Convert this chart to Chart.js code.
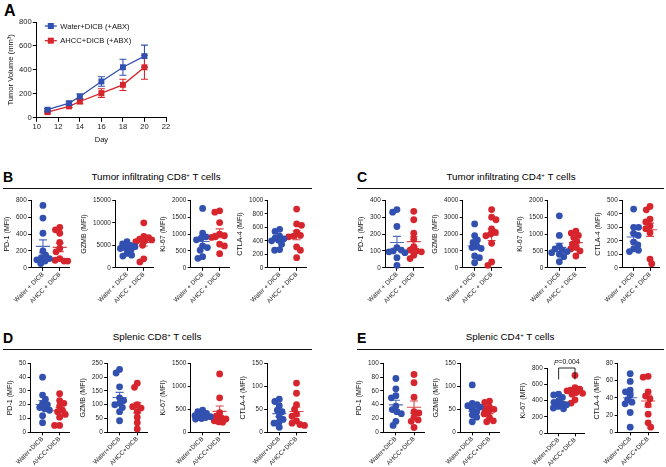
<!DOCTYPE html>
<html lang="en">
<head>
<meta charset="UTF-8">
<title>Tumor volume and T cell markers</title>
<script src="https://cdn.jsdelivr.net/npm/chart.js"></script>
<style>
  body { margin: 0; background: #fff; }
  #fig { position: relative; width: 666px; height: 467px; overflow: hidden; background: #fff;
         font-family: "Liberation Sans", Arial, sans-serif; color: #000; }
  #fig canvas { position: absolute; }
  .tag { position: absolute; font-weight: bold; font-size: 14px; line-height: 14px; }
  .head { position: absolute; font-size: 9.8px; line-height: 11px; white-space: nowrap; transform: translateX(-50%); }
  .head sup { font-size: 6px; vertical-align: 3px; line-height: 0; }
  .rule { position: absolute; height: 1.5px; background: #111; }
</style>
</head>
<body>
<div id="fig">
  <div class="tag" style="left:4px;top:2.5px;font-size:16px;line-height:16px">A</div>

  <div class="tag" style="left:3px;top:170px">B</div>
  <div class="head" style="left:156px;top:171px">Tumor infiltrating CD8<sup>+</sup> T cells</div>
  <div class="rule" style="left:3px;top:187.5px;width:309px"></div>

  <div class="tag" style="left:357px;top:170px">C</div>
  <div class="head" style="left:511px;top:171px">Tumor infiltrating CD4<sup>+</sup> T cells</div>
  <div class="rule" style="left:357px;top:187.5px;width:307px"></div>

  <div class="tag" style="left:3px;top:331px">D</div>
  <div class="head" style="left:157px;top:331px">Splenic CD8<sup>+</sup> T cells</div>
  <div class="rule" style="left:3px;top:348.5px;width:309px"></div>

  <div class="tag" style="left:357px;top:331px">E</div>
  <div class="head" style="left:510px;top:331px">Splenic CD4<sup>+</sup> T cells</div>
  <div class="rule" style="left:357px;top:348.5px;width:307px"></div>
</div>
<script>
// ---- data ----
const days = [11, 13, 14, 16, 18, 20];
const waterVol = [67, 122, 178, 303, 422, 515];
const waterErr = [10, 12, 20, 40, 67, 92];
const ahccVol = [47, 95, 136, 206, 275, 422];
const ahccErr = [8, 10, 18, 36, 47, 100];

const groupsLong = ['Water + DICB', 'AHCC + DICB'];
const groupsShort = ['Water+DICB', 'AHCC+DICB'];

// B: tumor infiltrating CD8+
const bPd1W = [740, 590, 410, 200, 150, 120, 110, 95, 80, 50];
const bPd1A = [480, 450, 410, 300, 230, 190, 110, 90, 80, 80];
const bGzmbW = [5800, 5300, 5000, 4700, 4500, 4300, 4000, 3200, 2800, 2600];
const bGzmbA = [10000, 7000, 6700, 6400, 6200, 6000, 5800, 5000, 2000, 1300];
const bKi67W = [1760, 1030, 920, 880, 830, 650, 600, 520, 330, 280];
const bKi67A = [1690, 1650, 1340, 1000, 950, 920, 900, 700, 650, 420];
const bCtla4W = [570, 540, 470, 440, 430, 410, 400, 350, 270, 260];
const bCtla4A = [870, 650, 630, 530, 480, 470, 460, 310, 260, 150];

// C: tumor infiltrating CD4+
const cPd1W = [345, 330, 245, 120, 105, 100, 95, 90, 60, 15];
const cPd1A = [335, 285, 205, 170, 125, 105, 100, 95, 75, 55];
const cGzmbW = [2600, 1900, 1650, 1500, 1300, 1200, 1150, 700, 600, 300];
const cGzmbA = [3450, 3000, 2850, 2300, 2100, 2000, 1900, 1450, 350, 150];
const cKi67W = [1540, 960, 640, 560, 520, 480, 450, 400, 330, 180];
const cKi67A = [1090, 1030, 960, 900, 780, 700, 600, 560, 500, 350];
const cCtla4W = [435, 300, 300, 255, 240, 190, 170, 140, 130, 120];
const cCtla4A = [455, 430, 360, 340, 310, 290, 260, 65, 30];

// D: splenic CD8+
const dPd1W = [40, 27, 24, 21, 20, 18, 17, 16, 12, 7];
const dPd1A = [28, 23, 21, 19, 16, 15, 13, 11, 5, 5];
const dGzmbW = [228, 215, 165, 125, 115, 105, 100, 90, 75, 42];
const dGzmbA = [178, 163, 100, 93, 88, 75, 55, 35, 12];
const dKi67W = [480, 450, 410, 380, 360, 340, 330, 320, 300, 290];
const dKi67A = [1270, 750, 430, 350, 320, 290, 250, 230, 220];
const dCtla4W = [72, 67, 58, 48, 45, 35, 28, 22, 20, 11];
const dCtla4A = [107, 85, 60, 50, 40, 35, 25, 20, 17, 15];

// E: splenic CD4+
const ePd1W = [78, 63, 53, 50, 38, 33, 30, 27, 16, 10];
const ePd1A = [84, 72, 51, 30, 28, 22, 18, 16, 7];
const eGzmbW = [103, 63, 60, 58, 55, 50, 45, 38, 33, 23];
const eGzmbA = [68, 65, 55, 52, 50, 45, 40, 32, 25, 23];
const eKi67W = [480, 470, 440, 400, 380, 360, 350, 330, 310, 300];
const eKi67A = [710, 560, 540, 530, 520, 500, 490, 480, 410, 370];
const eCtla4W = [68, 59, 49, 47, 43, 38, 35, 33, 23, 6];
const eCtla4A = [65, 64, 47, 42, 39, 32, 21, 11, 6];

const eKi67P = { text: '=0.004', top: 800, drop: 660 };

// ---- setup ----
const FONT = '"Liberation Sans", Arial, sans-serif';
Chart.defaults.font.family = FONT;
Chart.defaults.color = '#222';
const blue = '#3150b0', red = '#d7252d';
const colors = [blue, red];
const fig = document.getElementById('fig');
const X_MIN = 0.3, X_MAX = 2.55;

// panel boxes: [axis x, top, right, zero y]
const dotPanels = [
  { w: bPd1W, a: bPd1A, title: 'PD-1 (MFI)', max: 800, step: 200, labels: groupsLong, box: [31, 200, 69, 267] },
  { w: bGzmbW, a: bGzmbA, title: 'GZMB (MFI)', max: 15000, step: 5000, labels: groupsLong, box: [115, 200, 153, 267] },
  { w: bKi67W, a: bKi67A, title: 'Ki-67 (MFI)', max: 2000, step: 500, labels: groupsLong, box: [191, 200, 229, 267] },
  { w: bCtla4W, a: bCtla4A, title: 'CTLA-4 (MFI)', max: 1000, step: 200, labels: groupsLong, box: [268, 200, 306, 267] },
  { w: cPd1W, a: cPd1A, title: 'PD-1 (MFI)', max: 400, step: 100, labels: groupsLong, box: [385, 200, 423, 267] },
  { w: cGzmbW, a: cGzmbA, title: 'GZMB (MFI)', max: 4000, step: 1000, labels: groupsLong, box: [463, 200, 501, 267] },
  { w: cKi67W, a: cKi67A, title: 'Ki-67 (MFI)', max: 2000, step: 500, labels: groupsLong, box: [548, 200, 585, 267] },
  { w: cCtla4W, a: cCtla4A, title: 'CTLA-4 (MFI)', max: 500, step: 100, labels: groupsLong, box: [622, 200, 659, 267] },
  { w: dPd1W, a: dPd1A, title: 'PD-1 (MFI)', max: 50, step: 10, labels: groupsShort, box: [31, 363, 69, 432] },
  { w: dGzmbW, a: dGzmbA, title: 'GZMB (MFI)', max: 250, step: 50, labels: groupsShort, box: [107, 363, 147, 432] },
  { w: dKi67W, a: dKi67A, title: 'Ki-67 (MFI)', max: 1500, step: 500, labels: groupsShort, box: [191, 363, 229, 432] },
  { w: dCtla4W, a: dCtla4A, title: 'CTLA-4 (MFI)', max: 150, step: 50, labels: groupsShort, box: [267, 363, 306, 432] },
  { w: ePd1W, a: ePd1A, title: 'PD-1 (MFI)', max: 100, step: 20, labels: groupsShort, box: [383, 363, 424, 432] },
  { w: eGzmbW, a: eGzmbA, title: 'GZMB (MFI)', max: 150, step: 50, labels: groupsShort, box: [460, 363, 499, 432] },
  { w: eKi67W, a: eKi67A, title: 'Ki-67 (MFI)', max: 800, step: 200, labels: groupsShort, box: [547, 368, 584, 433], p: eKi67P },
  { w: eCtla4W, a: eCtla4A, title: 'CTLA-4 (MFI)', max: 80, step: 20, labels: groupsShort, box: [618, 363, 658, 432] }
];

// compact beeswarm: dots step sideways (max +-8px) when they would overlap
function swarm(vals, center, max, plotH, pxPerUnit) {
  const d = 5, lim = 8;
  const placed = [];
  return [...vals].sort((a, b) => b - a).map((v, k) => {
    const py = v / max * plotH;
    const gap = c => Math.min(Infinity, ...placed.map(p => Math.hypot(p.px - c, p.py - py)));
    const cands = [0];
    placed.forEach(p => {
      const dy = Math.abs(p.py - py);
      if (dy < d) {
        const w = Math.sqrt(d * d - dy * dy);
        cands.push(p.px + w, p.px - w);
      }
    });
    const ok = cands.filter(c => Math.abs(c) <= lim)
      .sort((a, b) => Math.abs(a) - Math.abs(b) || (k % 2 ? a - b : b - a));
    let px = ok.find(c => gap(c) >= d - 0.01);
    if (px === undefined) {
      let bestGap = -1;
      for (let c = -lim; c <= lim; c += 1) {
        const g = gap(c);
        if (g > bestGap) { bestGap = g; px = c; }
      }
    }
    placed.push({ px, py });
    return { x: center + px / pxPerUnit, y: v };
  });
}

const meanSem = {
  id: 'meanSem',
  afterDatasetsDraw(chart) {
    const { ctx, scales: { x, y } } = chart;
    chart.data.datasets.forEach((ds, i) => {
      const vals = ds.data.map(p => p.y);
      const n = vals.length;
      const mean = vals.reduce((s, v) => s + v, 0) / n;
      const sd = Math.sqrt(vals.reduce((s, v) => s + (v - mean) ** 2, 0) / (n - 1));
      const sem = sd / Math.sqrt(n);
      const cx = x.getPixelForValue(i + 1);
      const ym = y.getPixelForValue(mean), yt = y.getPixelForValue(mean + sem), yb = y.getPixelForValue(mean - sem);
      ctx.save();
      ctx.strokeStyle = ds.backgroundColor;
      ctx.globalAlpha = 0.85;
      ctx.lineWidth = 1.1;
      ctx.beginPath();
      ctx.moveTo(cx - 7, ym); ctx.lineTo(cx + 7, ym);
      ctx.moveTo(cx, yt); ctx.lineTo(cx, yb);
      ctx.moveTo(cx - 4, yt); ctx.lineTo(cx + 4, yt);
      ctx.moveTo(cx - 4, yb); ctx.lineTo(cx + 4, yb);
      ctx.stroke();
      ctx.restore();
    });
  },
  afterDraw(chart) {
    const p = chart.options.plugins.meanSem.p;
    if (!p) return;
    const { ctx, scales: { x, y } } = chart;
    const x1 = x.getPixelForValue(1), x2 = x.getPixelForValue(2);
    const yt = y.getPixelForValue(p.top), yd = y.getPixelForValue(p.drop);
    ctx.save();
    ctx.strokeStyle = '#111';
    ctx.lineWidth = 0.9;
    ctx.beginPath();
    ctx.moveTo(x1, yd); ctx.lineTo(x1, yt); ctx.lineTo(x2, yt); ctx.lineTo(x2, yd);
    ctx.stroke();
    ctx.fillStyle = '#111';
    ctx.textBaseline = 'bottom';
    ctx.font = 'italic 6.8px ' + FONT;
    const wP = ctx.measureText('P').width;
    ctx.font = '6.8px ' + FONT;
    const wR = ctx.measureText(p.text).width;
    const sx = (x1 + x2) / 2 - (wP + wR) / 2;
    ctx.font = 'italic 6.8px ' + FONT;
    ctx.fillText('P', sx, yt - 2);
    ctx.font = '6.8px ' + FONT;
    ctx.fillText(p.text, sx + wP, yt - 2);
    ctx.restore();
  }
};

function axisCommon(size) {
  return {
    grid: { drawOnChartArea: false, drawTicks: true, tickLength: 3, color: '#000', lineWidth: 1 },
    border: { display: true, color: '#000', width: 1 },
    ticks: { font: { size: size }, color: '#222', padding: 1.5 }
  };
}

function dotConfig(p) {
  const plotH = p.box[3] - p.box[1];
  const pxPerUnit = (p.box[2] - p.box[0]) / (X_MAX - X_MIN);
  const xAxis = axisCommon(6.4);
  const yAxis = axisCommon(6.4);
  return {
    type: 'scatter',
    data: {
      datasets: [p.w, p.a].map((vals, i) => ({
        data: swarm(vals, i + 1, p.max, plotH, pxPerUnit),
        backgroundColor: colors[i], borderWidth: 0, pointRadius: 3.4, clip: false
      }))
    },
    options: {
      responsive: false, maintainAspectRatio: false, animation: false, events: [],
      layout: { padding: { top: p.p ? 12 : 5, right: 4, left: 0, bottom: 0 } },
      plugins: { legend: { display: false }, tooltip: { enabled: false }, meanSem: { p: p.p } },
      scales: {
        x: {
          type: 'linear', min: X_MIN, max: X_MAX,
          afterBuildTicks: s => { s.ticks = [{ value: 1 }, { value: 2 }]; },
          afterFit: s => { s.paddingLeft = 0; s.paddingRight = 0; },
          grid: xAxis.grid, border: xAxis.border,
          ticks: { ...xAxis.ticks, minRotation: 45, maxRotation: 45, padding: 0,
                   callback: v => p.labels[Math.round(v) - 1] }
        },
        y: {
          min: 0, max: p.max,
          grid: yAxis.grid, border: yAxis.border,
          ticks: { ...yAxis.ticks, stepSize: p.step, callback: v => String(v) },
          title: { display: true, text: p.title, font: { size: 7.1 }, color: '#111', padding: { top: 1, bottom: 3 } }
        }
      }
    },
    plugins: [meanSem]
  };
}

// ---- panel A ----
const errorBars = {
  id: 'errorBars',
  beforeDatasetsDraw(chart) {
    const { ctx, scales: { x, y } } = chart;
    chart.data.datasets.forEach(ds => {
      ctx.save();
      ctx.strokeStyle = ds.borderColor;
      ctx.lineWidth = 1.1;
      ds.data.forEach((p, i) => {
        const e = ds.errors[i];
        const px = x.getPixelForValue(p.x);
        const t = y.getPixelForValue(p.y + e), b = y.getPixelForValue(p.y - e);
        ctx.beginPath();
        ctx.moveTo(px, t); ctx.lineTo(px, b);
        ctx.moveTo(px - 3.5, t); ctx.lineTo(px + 3.5, t);
        ctx.moveTo(px - 3.5, b); ctx.lineTo(px + 3.5, b);
        ctx.stroke();
      });
      ctx.restore();
    });
  }
};

const lineLegend = {
  id: 'lineLegend',
  afterDraw(chart) {
    const { ctx, chartArea } = chart;
    chart.data.datasets.forEach((ds, i) => {
      const y = chartArea.top + 4 + i * 14.7;
      const x = chartArea.left + 8;
      ctx.save();
      ctx.strokeStyle = ds.borderColor;
      ctx.lineWidth = 1.3;
      ctx.beginPath(); ctx.moveTo(x, y); ctx.lineTo(x + 12, y); ctx.stroke();
      ctx.fillStyle = ds.backgroundColor;
      ctx.fillRect(x + 3, y - 3, 6, 6);
      ctx.fillStyle = '#111';
      ctx.font = '7.6px ' + FONT;
      ctx.textBaseline = 'middle';
      ctx.fillText(ds.label, x + 15.5, y + 0.5);
      ctx.restore();
    });
  }
};

function growthConfig() {
  const xAxis = axisCommon(7.6);
  const yAxis = axisCommon(7.6);
  const mk = (label, vals, errs, c) => ({
    label, errors: errs, data: days.map((d, i) => ({ x: d, y: vals[i] })),
    borderColor: c, backgroundColor: c, borderWidth: 1.3,
    pointStyle: 'rect', pointRadius: 4.2, pointBorderWidth: 0, clip: false
  });
  return {
    type: 'line',
    data: { datasets: [
      mk('Water+DICB (+ABX)', waterVol, waterErr, blue),
      mk('AHCC+DICB (+ABX)', ahccVol, ahccErr, red)
    ] },
    options: {
      responsive: false, maintainAspectRatio: false, animation: false, events: [],
      layout: { padding: { top: 6, right: 8, left: 0, bottom: 0 } },
      plugins: { legend: { display: false }, tooltip: { enabled: false } },
      scales: {
        x: {
          type: 'linear', min: 10, max: 22,
          grid: { ...xAxis.grid, tickLength: 4 }, border: xAxis.border,
          ticks: { ...xAxis.ticks, stepSize: 2, padding: 1 },
          title: { display: true, text: 'Day', font: { size: 7.6 }, color: '#111', padding: { top: 2, bottom: 0 } }
        },
        y: {
          min: 0, max: 800,
          grid: { ...yAxis.grid, tickLength: 4 }, border: yAxis.border,
          ticks: { ...yAxis.ticks, stepSize: 200, padding: 1 },
          title: { display: true, text: 'Tumor Volume (mm³)', font: { size: 7.6 }, color: '#111', padding: { top: 2, bottom: 3 } }
        }
      }
    },
    plugins: [errorBars, lineLegend]
  };
}

// build a chart, then size and move its canvas so the plot area lands on box
function mount(makeConfig, box) {
  const canvas = document.createElement('canvas');
  canvas.width = 200; canvas.height = 200;
  fig.appendChild(canvas);
  let chart = new Chart(canvas, makeConfig());
  let ca = chart.chartArea;
  const w = Math.round(200 - (ca.right - ca.left) + (box[2] - box[0]));
  const h = Math.round(200 - (ca.bottom - ca.top) + (box[3] - box[1]));
  chart.destroy();
  canvas.width = w; canvas.height = h;
  chart = new Chart(canvas, makeConfig());
  ca = chart.chartArea;
  canvas.style.left = Math.round(box[0] - ca.left) + 'px';
  canvas.style.top = Math.round(box[1] - ca.top) + 'px';
  return chart;
}

mount(growthConfig, [37, 22, 166, 118]);
dotPanels.forEach(p => mount(() => dotConfig(p), p.box));
</script>
</body>
</html>
